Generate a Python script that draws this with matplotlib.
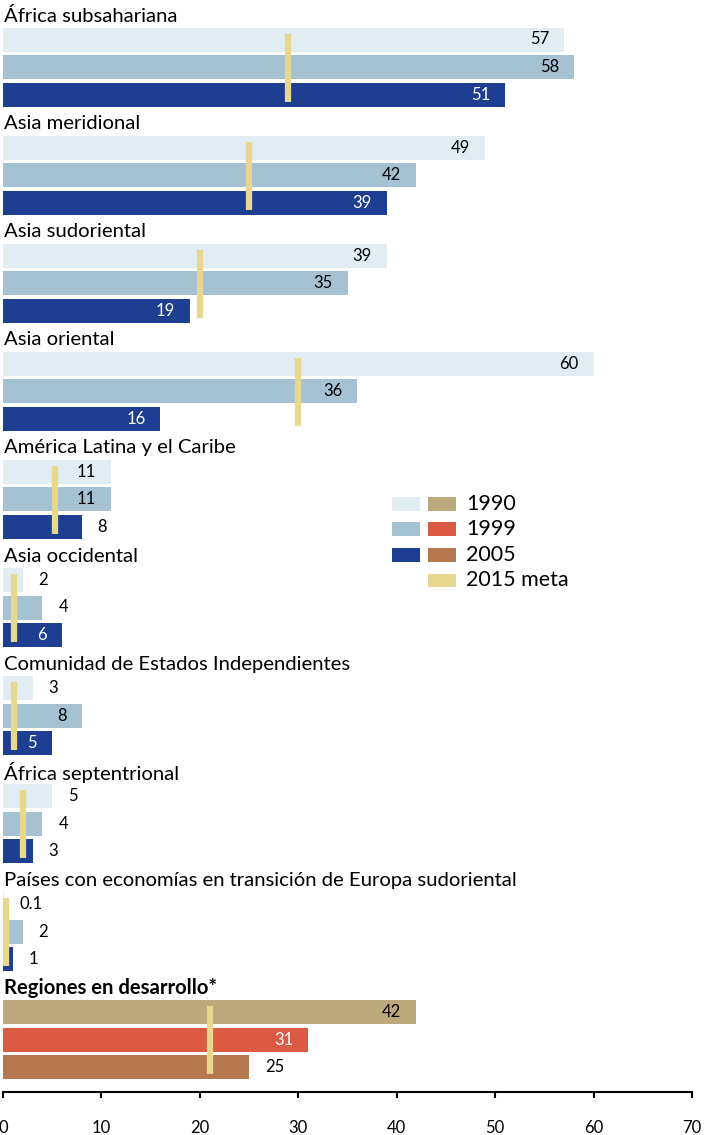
import matplotlib.pyplot as plt
from matplotlib.patches import Rectangle

plt.rcParams['font.family'] = ['Lato', 'DejaVu Sans']

regions = ["África subsahariana", "Asia meridional", "Asia sudoriental", "Asia oriental",
           "América Latina y el Caribe", "Asia occidental", "Comunidad de Estados Independientes",
           "África septentrional", "Países con economías en transición de Europa sudoriental",
           "Regiones en desarrollo*"]
v1990 = [57, 49, 39, 60, 11, 2, 3, 5, 0.1, 42]
v1999 = [58, 42, 35, 36, 11, 4, 8, 4, 2, 31]
v2005 = [51, 39, 19, 16, 8, 6, 5, 3, 1, 25]
meta2015 = [29, 25, 20, 30, 5.3, 1.1, 1.1, 2, 0.3, 21]
years = ["1990", "1999", "2005"]

# label goes inside the bar end (True) or just after it (False)
inside = [[1, 1, 1], [1, 1, 1], [1, 1, 1], [1, 1, 1], [1, 1, 0],
          [0, 0, 1], [0, 1, 1], [0, 0, 0], [0, 0, 0], [1, 1, 0]]

blues = ["#e1ecf3", "#a5c2d3", "#1e3f91"]
warm = ["#bea97c", "#dc5a44", "#b7784f"]
meta_col = "#e8d88f"

group_pitch = 108.1
bar_pitch = 27.5
first_bar = 39.5

fig = plt.figure(figsize=(7.07, 11.35), dpi=100)
ax = fig.add_axes([3 / 707, (1135 - 1092) / 1135, 689 / 707, 1092 / 1135])

for i, name in enumerate(regions):
    cols = warm if i == len(regions) - 1 else blues
    vals = [v1990[i], v1999[i], v2005[i]]
    base = first_bar + i * group_pitch
    ax.text(0.15, base - 24, name, fontsize=14.6, va='center', ha='left',
            fontweight='bold' if i == len(regions) - 1 else 'normal')
    ys = [base + j * bar_pitch for j in range(3)]
    ax.barh(ys, vals, height=24, color=cols, edgecolor='none')
    for j, v in enumerate(vals):
        lbl = f"{v:g}"
        if inside[i][j]:
            tc = 'white' if cols[j] in ("#1e3f91", "#dc5a44") else 'black'
            ax.annotate(lbl, (v, ys[j]), xytext=(-15, 0), textcoords='offset pixels',
                        ha='right', va='center', fontsize=12, color=tc)
        else:
            ax.annotate(lbl, (v, ys[j]), xytext=(16, 0), textcoords='offset pixels',
                        ha='left', va='center', fontsize=12, color='black')
    ax.plot([meta2015[i], meta2015[i]], [ys[0] - 6, ys[2] + 7], color=meta_col,
            lw=4.5, solid_capstyle='butt')

# legend
px = 9.843
leg_rows = [503.5, 529, 555, 580]
leg_labels = years + ["2015 meta"]
for k, y in enumerate(leg_rows):
    if k < 3:
        ax.add_patch(Rectangle(((392 - 3) / px, y - 7), 28 / px, 14, color=blues[k], lw=0))
        ax.add_patch(Rectangle(((428 - 3) / px, y - 7), 28 / px, 14, color=warm[k], lw=0))
    else:
        ax.add_patch(Rectangle(((428 - 3) / px, y - 6), 28 / px, 13, color=meta_col, lw=0))
    ax.text((466 - 3) / px, y, leg_labels[k], fontsize=15.5, va='center', ha='left')

ax.set_xlim(0, 70)
ax.set_ylim(1092, 0)
for s in ['top', 'right', 'left']:
    ax.spines[s].set_visible(False)
ax.spines['bottom'].set_linewidth(1.5)
ax.set_yticks([])
ax.set_xticks(range(0, 71, 10))
ax.tick_params(axis='x', length=4, width=1.5, pad=16, labelsize=12)

fig.savefig("out.png", dpi=100)
